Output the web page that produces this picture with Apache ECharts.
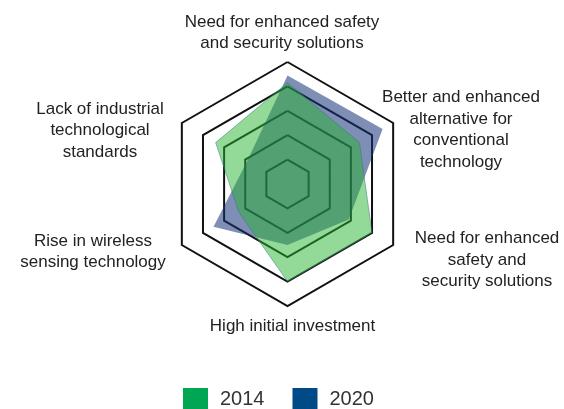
<!DOCTYPE html>
<html>
<head>
<meta charset="utf-8">
<script src="https://cdn.jsdelivr.net/npm/echarts@6/dist/echarts.min.js"></script>
<style>
  html, body { margin: 0; padding: 0; background: #ffffff; }
  #chart { width: 564px; height: 409px; }
</style>
</head>
<body>
<div id="chart"></div>
<script>
// Radar axes, listed counter-clockwise from the top (the order the radar lays them out).
const axisLabels = [
  'Need for enhanced safety\nand security solutions',
  'Lack of industrial\ntechnological\nstandards',
  'Rise in wireless\nsensing technology',
  'High initial investment',
  'Need for enhanced\nsafety and\nsecurity solutions',
  'Better and enhanced\nalternative for\nconventional\ntechnology'
];
const scaleMax = 5;
const seriesNames = ['2014', '2020'];
const values2014 = [4.15, 3.4, 2.3, 4.0, 4.0, 3.4];
const values2020 = [4.45, 1.9, 3.5, 2.5, 2.9, 4.5];

// Where each axis caption sits (centre of the text block), same order as axisLabels.
const captionSpots = [[282, 33], [100, 130.5], [93, 252], [292.5, 326], [487, 260], [461, 130]];

const chart = echarts.init(document.getElementById('chart'));

chart.setOption({
  animation: false,
  backgroundColor: '#ffffff',
  legend: {
    left: 178,
    top: 383,
    icon: 'rect',
    itemWidth: 25,
    itemHeight: 22,
    itemGap: 28,
    selectedMode: false,
    textStyle: {
      color: '#333333',
      fontSize: 20,
      fontFamily: '"Liberation Sans", Arial, sans-serif',
      padding: [0, 0, 0, 7]
    },
    data: [
      { name: seriesNames[0], itemStyle: { color: '#00a651' } },
      { name: seriesNames[1], itemStyle: { color: '#004b87' } }
    ]
  },
  radar: {
    center: [287.5, 184],
    radius: 122,
    startAngle: 90,
    splitNumber: 5,
    shape: 'polygon',
    indicator: axisLabels.map(function (n) { return { name: n, min: 0, max: scaleMax }; }),
    axisName: { show: false },
    axisLine: { show: false },
    axisTick: { show: false },
    axisLabel: { show: false },
    splitArea: { show: false },
    splitLine: { lineStyle: { color: '#111111', width: 2 } }
  },
  graphic: axisLabels.map(function (t, i) {
    return {
      type: 'text',
      x: captionSpots[i][0],
      y: captionSpots[i][1],
      silent: true,
      style: {
        text: t,
        fill: '#222222',
        font: '17px "Liberation Sans", Arial, sans-serif',
        align: 'center',
        verticalAlign: 'middle',
        lineHeight: 21.5
      }
    };
  }),
  series: [{
    type: 'radar',
    symbol: 'none',
    data: [
      {
        name: seriesNames[1],
        value: values2020,
        itemStyle: { color: '#004b87' },
        lineStyle: { opacity: 0 },
        areaStyle: { color: 'rgba(20,50,120,0.55)', opacity: 1 }
      },
      {
        name: seriesNames[0],
        value: values2014,
        itemStyle: { color: '#00a651' },
        lineStyle: { color: 'rgba(60,95,150,0.5)', width: 1 },
        areaStyle: { color: 'rgba(40,180,50,0.5)', opacity: 1 }
      }
    ]
  }]
});
</script>
</body>
</html>
